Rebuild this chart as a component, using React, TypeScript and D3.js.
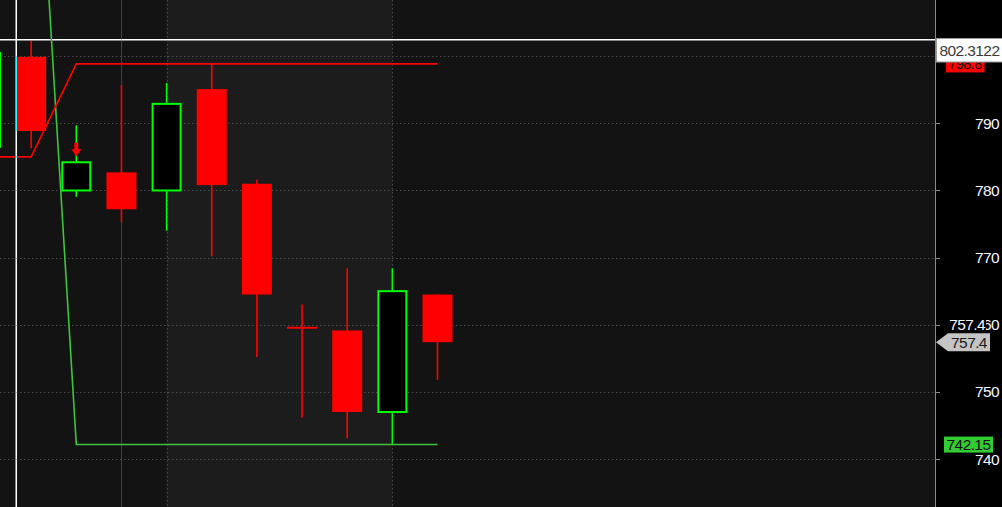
import React from 'react';
import * as d3 from 'd3';

// candles, index 0 is the partly visible one on the left edge
const opens = [786.5, 799.9, 780.0, 782.7, 780.0, 795.1, 781.0, 759.7, 759.15, 747.0, 764.5];
const highs = [801.0, 802.3, 789.7, 795.7, 796.0, 798.85, 781.6, 763.0, 768.4, 768.4, 764.5];
const lows = [786.0, 786.3, 779.05, 775.3, 774.0, 770.2, 755.2, 746.2, 743.1, 742.15, 751.8];
const closes = [800.5, 788.85, 784.2, 777.2, 792.9, 780.8, 764.5, 759.5, 747.0, 765.0, 757.4];

const priceTicks = [740, 750, 760, 770, 780, 790, 800];

// overlay lines (index, price)
const zigzagIdx = [1, 2, 10];
const zigzagVal = [851.9, 742.15, 742.15];
const stopIdx = [0, 1, 2, 10];
const stopVal = [785.0, 785.0, 798.85, 798.85];

const sellArrowIdx = [2];
const sellArrowVal = [785.1];

const sessionBand = [4, 9];
const dayLine = [3];

const crosshairIdx = 0.67;
const crosshairVal = 802.3122;

const lastClose = 757.4;
const lowLabel = 742.15;
const stopLabel = 798.85;

const W = 1002, H = 507, axisX = 935;
const font = '"Liberation Sans", Arial, sans-serif';
const fs = 15.5;
const ls = -0.6;

export default function App() {
  const x = d3.scaleLinear().domain([0, 10]).range([-14, 437.5]);
  const y = d3.scaleLinear().domain([740, 800]).range([459, 56.2]);
  const bodyW = 30;
  const pl = d3.line<[number, number]>().x(d => x(d[0])).y(d => y(d[1]));
  const zig = pl(zigzagIdx.map((d, i) => [d, zigzagVal[i]]));
  const stop = pl(stopIdx.map((d, i) => [d, stopVal[i]]));

  return (
    <svg width={W} height={H} style={{ position: 'fixed', left: 0, top: 0, display: 'block' }}
      fontFamily={font}>
      <defs>
        <clipPath id="plot"><rect x={0} y={0} width={axisX} height={H} /></clipPath>
      </defs>
      <rect width={W} height={H} fill="#131313" />
      <rect x={x(sessionBand[0])} y={0} width={x(sessionBand[1]) - x(sessionBand[0])} height={H} fill="#1c1c1c" />

      <g clipPath="url(#plot)">
        {priceTicks.map(t => (
          <line key={t} x1={0} x2={axisX} y1={Math.round(y(t)) + 0.5} y2={Math.round(y(t)) + 0.5}
            stroke="#4a4a4a" strokeDasharray="1.5,2.5" />
        ))}
        {dayLine.map(i => (
          <line key={i} x1={Math.round(x(i)) + 0.5} x2={Math.round(x(i)) + 0.5} y1={0} y2={H} stroke="#414141" />
        ))}
        {sessionBand.map(i => (
          <line key={i} x1={Math.round(x(i)) + 0.5} x2={Math.round(x(i)) + 0.5} y1={0} y2={H}
            stroke="#4a4a4a" strokeDasharray="1.5,2.5" />
        ))}

        {opens.map((o, i) => {
          const c = closes[i];
          const up = c > o;
          const cx = x(i);
          const top = y(Math.max(o, c));
          const bot = y(Math.min(o, c));
          const col = up ? '#00ff00' : '#ff0000';
          return (
            <g key={i}>
              <line x1={cx} x2={cx} y1={y(highs[i])} y2={y(lows[i])} stroke={col} strokeWidth={1.6} />
              {up ? (
                <rect x={cx - bodyW / 2 + 1} y={top} width={bodyW - 2} height={bot - top}
                  fill="#000" stroke={col} strokeWidth={2} />
              ) : (
                <rect x={cx - bodyW / 2} y={top} width={bodyW} height={Math.max(2, bot - top)} fill={col} />
              )}
            </g>
          );
        })}

        <path d={zig || ''} fill="none" stroke="#3ec43e" strokeWidth={1.6} />
        <path d={stop || ''} fill="none" stroke="#ff0000" strokeWidth={1.6} />

        {sellArrowIdx.map((i, k) => {
          const cx = x(i), ty = y(sellArrowVal[k]);
          return (
            <path key={i} fill="#ff0000"
              d={`M${cx - 2},${ty - 13.5}H${cx + 2}V${ty - 7}H${cx + 5}L${cx},${ty}L${cx - 5},${ty - 7}H${cx - 2}Z`} />
          );
        })}

        <g style={{ mixBlendMode: 'difference' }}>
          <line x1={x(crosshairIdx)} x2={x(crosshairIdx)} y1={0} y2={H} stroke="#fff" strokeWidth={1.5} />
          <line x1={0} x2={axisX} y1={y(crosshairVal) - 1} y2={y(crosshairVal) - 1} stroke="#fff" strokeWidth={1.5} />
        </g>
      </g>

      {/* price axis */}
      <rect x={axisX} y={0} width={W - axisX} height={H} fill="#000" />
      <line x1={axisX + 0.5} x2={axisX + 0.5} y1={0} y2={H} stroke="#8a8a8a" />
      {priceTicks.map(t => (
        <g key={t}>
          <line x1={axisX} x2={axisX + 5} y1={Math.round(y(t)) + 0.5} y2={Math.round(y(t)) + 0.5} stroke="#8a8a8a" />
          <text x={999} y={y(t)} dy="0.36em" textAnchor="end" fontSize={fs} letterSpacing={ls} fill="#f4f8ff">{t}</text>
        </g>
      ))}

      {/* last close shown over the 760 tick */}
      <rect x={946} y={y(760) - 9} width={40} height={18} fill="#000" />
      <text x={985} y={y(760)} dy="0.36em" textAnchor="end" fontSize={fs} letterSpacing={ls} fill="#f4f8ff">{lastClose}</text>

      <path d={`M936,${y(lastClose)}L948,${y(lastClose) - 9}H990V${y(lastClose) + 9}H948Z`} fill="#c4c4c4" />
      <text x={969} y={y(lastClose)} dy="0.36em" textAnchor="middle" fontSize={fs} letterSpacing={ls} fill="#1a1a1a">{lastClose}</text>

      <rect x={944} y={y(lowLabel) - 8} width={49} height={16} fill="#33cc33" />
      <text x={968.5} y={y(lowLabel)} dy="0.36em" textAnchor="middle" fontSize={fs} letterSpacing={ls} fill="#111">{lowLabel}</text>

      <rect x={946} y={y(stopLabel) - 8.5} width={38.5} height={17} fill="#ff0000" />
      <text x={965} y={y(stopLabel)} dy="0.36em" textAnchor="middle" fontSize={fs - 1} letterSpacing={ls} fill="#111">798.8</text>

      <rect x={936.5} y={38.5} width={66} height={23.5} fill="#fff" stroke="#9a9a9a" />
      <text x={969.5} y={50.5} dy="0.36em" textAnchor="middle" fontSize={fs} letterSpacing={ls} fill="#3a3a3a">{crosshairVal}</text>
    </svg>
  );
}
